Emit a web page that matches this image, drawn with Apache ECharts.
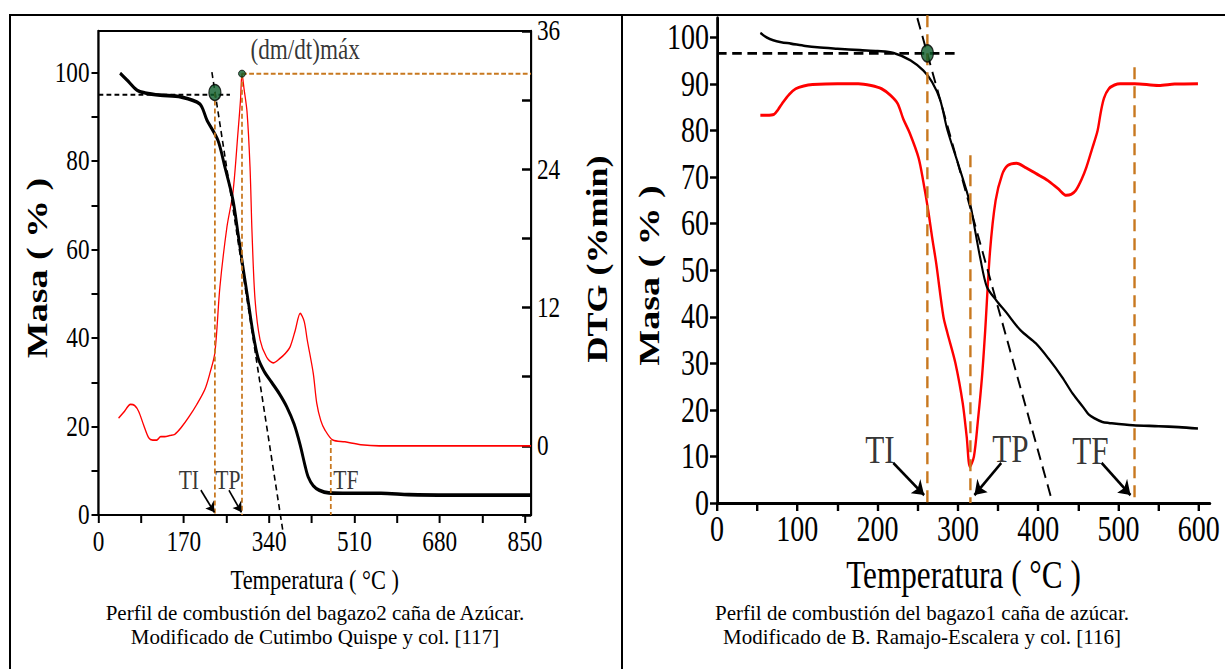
<!DOCTYPE html>
<html>
<head>
<meta charset="utf-8">
<script src="https://cdn.jsdelivr.net/npm/echarts@6/dist/echarts.min.js"></script>
<style>
  html, body { margin: 0; padding: 0; background: #fff; width: 1225px; height: 669px; overflow: hidden; }
  #sheet { position: absolute; left: 0; top: 0; width: 1225px; height: 669px; }
  #plots { position: absolute; left: 0; top: 0; width: 1531.25px; height: 669px;
           transform: scaleX(0.8); transform-origin: 0 0; }
</style>
</head>
<body>
<div id="sheet"></div>
<div id="plots"></div>
<script>
// ---------- Panel A: bagazo2 (Cutimbo Quispe) ----------
const tgTempA = [43, 57, 77, 93, 123, 164, 202, 216, 238, 252, 268, 278, 288, 298, 308, 318, 330, 345, 360, 375, 390, 402, 412, 418, 428, 440, 459, 500, 563, 619, 700, 780, 862];
const tgMassA = [99.9, 98.3, 96.0, 95.4, 94.9, 94.5, 92.9, 89.3, 84.7, 78.6, 71.2, 63.7, 56.0, 48.6, 41.1, 35.5, 32.5, 30.0, 27.5, 24.5, 20.5, 15.8, 11.0, 8.6, 6.6, 5.6, 5.0, 4.9, 4.9, 4.6, 4.5, 4.5, 4.5];
const dtgTempA = [40, 50, 64, 72, 80, 90, 100, 108, 116, 124, 132, 142, 152, 165, 180, 196, 212, 222, 232, 242, 256, 268, 278, 283, 286, 290, 296, 302, 306, 312, 322, 335, 348, 362, 372, 382, 392, 402, 410, 416, 428, 435, 443, 451, 467, 491, 523, 560, 650, 750, 862];
const dtgValA = [2.4, 2.9, 3.6, 3.5, 3.0, 1.8, 0.7, 0.5, 0.5, 0.8, 0.8, 0.9, 1.0, 1.6, 2.5, 3.6, 4.9, 6.3, 8.1, 13.8, 19.0, 22.0, 27.2, 30.0, 32.3, 31.0, 29.0, 24.2, 18.5, 12.7, 9.2, 7.7, 7.2, 7.6, 8.0, 8.6, 10.0, 11.5, 10.8, 9.2, 6.3, 3.7, 2.2, 1.4, 0.5, 0.35, 0.1, 0, 0, 0, 0];
const xTicksA = [0, 85, 170, 255, 340, 425, 510, 595, 680, 765, 850];
const xLabelsA = [0, 170, 340, 510, 680, 850];
const massTicksA = [0, 10, 20, 30, 40, 50, 60, 70, 80, 90, 100];
const massLabelsA = [0, 20, 40, 60, 80, 100];
const dtgTicksA = [-6, 0, 6, 12, 18, 24, 30, 36];
const dtgLabelsA = [0, 12, 24, 36];
// characteristic temperatures (°C) and reference levels
const tiA = 232, tpA = 286, tfA = 463;
const onsetMassA = 95.0, onsetDotA = 95.5, peakDtgA = 32.3;
const tangentA = [[226, 100.1], [368, -4]];
const arrowsA = [[[204, 5.6], [231, 0.6]], [[260, 5.6], [285, 0.6]]];
const tagsA = [{ name: 'TI', value: [180, 8.1] }, { name: 'TP', value: [258, 8.1] }, { name: 'TF', value: [493, 8.1] }];
const peakTagA = { name: '(dm/dt)máx', value: [412, 34.4] };

// ---------- Panel B: bagazo1 (Ramajo-Escalera) ----------
const tgTempB = [54, 62, 70, 80, 92, 110, 125, 150, 178, 200, 220, 241, 257, 268, 278, 287, 301, 315, 322, 328, 336, 348, 360, 378, 397, 413, 430, 443, 456, 463, 470, 480, 488, 518, 550, 575, 599];
const tgMassB = [101, 100, 99.4, 99, 98.7, 98.2, 97.9, 97.6, 97.3, 97.1, 96.7, 95.1, 92.9, 90.4, 86.6, 80.1, 72.5, 64.5, 58, 52.5, 46.5, 43.5, 41, 37.1, 34.3, 31, 27, 23.5, 20.6, 19, 18.2, 17.4, 17.2, 16.7, 16.5, 16.3, 16];
const dtgTempB = [54, 62, 71, 76, 81, 90, 98, 108, 119, 150, 176, 192, 205, 216, 225, 232, 240, 251, 257, 263, 268, 273, 282, 287, 297, 306, 311, 315, 320, 325, 330, 334, 340, 347, 355, 362, 373, 385, 397, 412, 425, 435, 441, 447, 454, 460, 467, 474, 478, 482, 488, 495, 502, 520, 550, 570, 599];
const dtgValB = [83.3, 83.3, 83.5, 84.5, 85.8, 87.8, 89, 89.6, 89.9, 90.1, 90.1, 89.7, 89, 87.6, 85.8, 82.5, 79.5, 74.2, 69, 62.9, 57, 51.5, 40, 36.5, 30, 21.5, 14.2, 7.8, 10, 17.8, 27, 37, 54, 65, 70.5, 72.5, 73, 72, 70.8, 69.3, 67.5, 66.1, 66.3, 67.2, 69.5, 72.1, 76, 80, 84, 87, 89, 89.8, 90.1, 90.1, 89.7, 90, 90.1];
const xTicksB = [0, 50, 100, 150, 200, 250, 300, 350, 400, 450, 500, 550, 600];
const xLabelsB = [0, 100, 200, 300, 400, 500, 600];
const massTicksB = [0, 10, 20, 30, 40, 50, 60, 70, 80, 90, 100];
const tiB = 262, tpB = 315.6, tfB = 520;
const onsetMassB = 96.6;
const tangentB = [[249.5, 104.2], [418, 0]];
const arrowsB = [[[219.5, 8.6], [258, 1.7]], [[354, 8.6], [320.6, 1.7]], [[479, 8.6], [515, 1.7]]];
const tagsB = [{ name: 'TI', value: [203, 11.4] }, { name: 'TP', value: [365.5, 11.6] }, { name: 'TF', value: [465, 11.2] }];

const captionsA = ['Perfil de combustión del bagazo2 caña de Azúcar.', 'Modificado de Cutimbo Quispe y col. [117]'];
const captionsB = ['Perfil de combustión del bagazo1 caña de azúcar.', 'Modificado de B. Ramajo-Escalera y col. [116]'];

// ---------- styling ----------
const FONT = "'Liberation Serif', 'Times New Roman', serif";
const BLACK = '#000000', RED = '#ff0000', ORANGE = '#c8781f', GREEN = '#0b5c29';
const zip = (xs, ys) => xs.map((x, i) => [x, ys[i]]);

// the plot layer is drawn 25% wider and squeezed horizontally by CSS
const SQ = 0.8;
const px = v => v / SQ;

function dashed(name, data, color, width, dash, xi, yi, extra) {
  return Object.assign({
    name, type: 'line', xAxisIndex: xi, yAxisIndex: yi, data,
    showSymbol: false, symbol: 'none', clip: false, silent: true, z: 4,
    lineStyle: { color, width, type: dash }
  }, extra || {});
}
function tags(data, xi, yi, size) {
  return {
    type: 'scatter', xAxisIndex: xi, yAxisIndex: yi, data, symbolSize: 1,
    itemStyle: { color: 'transparent' }, silent: true, z: 6,
    label: { show: true, position: 'inside', formatter: '{b}', color: BLACK, fontFamily: FONT, fontSize: size }
  };
}
function arrows(list, xi, yi, width, head) {
  return {
    type: 'lines', coordinateSystem: 'cartesian2d', xAxisIndex: xi, yAxisIndex: yi,
    symbol: ['none', 'arrow'], symbolSize: head, silent: true, z: 6,
    lineStyle: { color: BLACK, width, opacity: 1, curveness: 0 },
    data: list.map(c => ({ coords: c }))
  };
}

const plots = echarts.init(document.getElementById('plots'), null, { renderer: 'svg' });
plots.setOption({
  animation: false,
  backgroundColor: 'transparent',
  grid: [
    { left: px(98.5), top: 31, width: px(432.5), height: 484, show: true, borderColor: BLACK, borderWidth: 2.2, backgroundColor: 'transparent' },
    { left: px(717), top: 18, width: px(493), height: 485 }
  ],
  xAxis: [
    {
      type: 'value', gridIndex: 0, min: 0, max: 862, interval: 85,
      axisLine: { show: true, onZero: false, lineStyle: { color: BLACK, width: 2 } },
      axisTick: { show: true, inside: false, length: 8, customValues: xTicksA, lineStyle: { color: BLACK, width: 2.5 } },
      axisLabel: { customValues: xLabelsA, color: BLACK, fontFamily: FONT, fontSize: 29, margin: 12 },
      splitLine: { show: false },
      name: 'Temperatura ( °C )', nameLocation: 'middle', nameGap: 50,
      nameTextStyle: { color: BLACK, fontFamily: FONT, fontSize: 28 }
    },
    {
      type: 'value', gridIndex: 1, min: 0, max: 614, interval: 50,
      axisLine: { show: true, onZero: false, lineStyle: { color: BLACK, width: 3 } },
      axisTick: { show: true, inside: false, length: 8, customValues: xTicksB, lineStyle: { color: BLACK, width: 3 } },
      axisLabel: { customValues: xLabelsB, color: BLACK, fontFamily: FONT, fontSize: 35, margin: 9 },
      splitLine: { show: false },
      name: 'Temperatura ( °C )', nameLocation: 'middle', nameGap: 53,
      nameTextStyle: { color: BLACK, fontFamily: FONT, fontSize: 39 }
    }
  ],
  yAxis: [
    {
      type: 'value', gridIndex: 0, position: 'left', min: 0, max: 109.4, interval: 10,
      axisLine: { show: true, onZero: false, lineStyle: { color: BLACK, width: 2.4 } },
      axisTick: { show: true, inside: false, length: px(7), customValues: massTicksA, lineStyle: { color: BLACK, width: 2 } },
      axisLabel: { customValues: massLabelsA, color: BLACK, fontFamily: FONT, fontSize: 29, margin: px(9) },
      splitLine: { show: false },
      name: 'Masa ( % )', nameLocation: 'middle', nameRotate: 90, nameGap: px(46),
      nameTextStyle: { color: BLACK, fontFamily: FONT, fontSize: 38, fontWeight: 'bold', padding: [0, 0, 0, 10] }
    },
    {
      type: 'value', gridIndex: 0, position: 'right', min: -6, max: 36, interval: 6,
      axisLine: { show: true, onZero: false, lineStyle: { color: BLACK, width: 2.4 } },
      axisTick: { show: true, inside: true, length: px(9), customValues: dtgTicksA, lineStyle: { color: BLACK, width: 2.5 } },
      axisLabel: { customValues: dtgLabelsA, color: BLACK, fontFamily: FONT, fontSize: 29, margin: px(6) },
      splitLine: { show: false },
      name: 'DTG (%min)', nameLocation: 'middle', nameRotate: 90, nameGap: px(52),
      nameTextStyle: { color: BLACK, fontFamily: FONT, fontSize: 36, fontWeight: 'bold', padding: [0, 0, 0, 28] }
    },
    {
      type: 'value', gridIndex: 1, position: 'left', min: 0, max: 104.2, interval: 10,
      axisLine: { show: true, onZero: false, lineStyle: { color: BLACK, width: 3.5 } },
      axisTick: { show: true, inside: false, length: px(7), customValues: massTicksB, lineStyle: { color: BLACK, width: 2.5 } },
      axisLabel: { customValues: massTicksB, color: BLACK, fontFamily: FONT, fontSize: 35, margin: px(8) },
      splitLine: { show: false },
      name: 'Masa ( % )', nameLocation: 'middle', nameRotate: 90, nameGap: px(52),
      nameTextStyle: { color: BLACK, fontFamily: FONT, fontSize: 38, fontWeight: 'bold', padding: [0, 30, 0, 0] }
    }
  ],
  series: [
    // ---- panel A ----
    { name: 'TG', type: 'line', xAxisIndex: 0, yAxisIndex: 0, data: zip(tgTempA, tgMassA), smooth: 0.3,
      showSymbol: false, symbol: 'none', z: 3, lineStyle: { color: BLACK, width: 3.6 } },
    { name: 'DTG', type: 'line', xAxisIndex: 0, yAxisIndex: 1, data: zip(dtgTempA, dtgValA), smooth: 0.3,
      showSymbol: false, symbol: 'none', z: 2, lineStyle: { color: RED, width: 1.6 } },
    dashed('onset', [[0, onsetMassA], [262, onsetMassA]], BLACK, 2, [6, 4], 0, 0),
    dashed('tangent', tangentA, BLACK, 2, [6, 4], 0, 0),
    dashed('TI', [[tiA, onsetDotA], [tiA, 0]], ORANGE, 2.2, [5, 3], 0, 0),
    dashed('TP', [[tpA, peakDtgA], [tpA, -6]], ORANGE, 2.2, [5, 3], 0, 1),
    dashed('TF', [[tfA, 0.5], [tfA, -6]], ORANGE, 2.2, [5, 3], 0, 1),
    dashed('peak level', [[tpA, peakDtgA], [862, peakDtgA]], ORANGE, 2, [6, 3], 0, 1),
    { type: 'scatter', xAxisIndex: 0, yAxisIndex: 0, data: [[tiA, onsetDotA]], symbol: 'circle',
      symbolSize: [px(12), 16], z: 7, itemStyle: { color: GREEN, borderColor: BLACK, borderWidth: 1.5 } },
    { type: 'scatter', xAxisIndex: 0, yAxisIndex: 1, data: [[tpA, peakDtgA]], symbol: 'circle',
      symbolSize: [px(7), 7], z: 7, itemStyle: { color: GREEN, borderColor: BLACK, borderWidth: 1 } },
    tags(tagsA, 0, 0, 27),
    tags([peakTagA], 0, 1, 29),
    arrows(arrowsA, 0, 0, 2, 10),
    // ---- panel B ----
    { name: 'TG B', type: 'line', xAxisIndex: 1, yAxisIndex: 2, data: zip(tgTempB, tgMassB), smooth: 0.3,
      showSymbol: false, symbol: 'none', z: 3, lineStyle: { color: BLACK, width: 2.6 } },
    { name: 'DTG B', type: 'line', xAxisIndex: 1, yAxisIndex: 2, data: zip(dtgTempB, dtgValB), smooth: 0.3,
      showSymbol: false, symbol: 'none', z: 2, lineStyle: { color: RED, width: 3 } },
    dashed('onset B', [[0, onsetMassB], [299, onsetMassB]], BLACK, 2.6, [12, 7], 1, 2),
    dashed('tangent B', tangentB, BLACK, 2.4, [12, 7], 1, 2),
    dashed('TI B', [[tiB, 104.8], [tiB, 0]], ORANGE, 3, [12, 7], 1, 2),
    dashed('TP B', [[tpB, 74.7], [tpB, 0]], ORANGE, 3, [12, 7], 1, 2),
    dashed('TF B', [[tfB, 93.6], [tfB, 0]], ORANGE, 3, [12, 7], 1, 2),
    { type: 'scatter', xAxisIndex: 1, yAxisIndex: 2, data: [[tiB, onsetMassB]], symbol: 'circle',
      symbolSize: [px(12), 17], z: 7, itemStyle: { color: GREEN, borderColor: BLACK, borderWidth: 1.5 } },
    tags(tagsB, 1, 2, 39),
    arrows(arrowsB, 1, 2, 3, 14)
  ]
});

// table frame and captions, drawn at natural width
const sheet = echarts.init(document.getElementById('sheet'), null, { renderer: 'svg' });
const frameStyle = { stroke: BLACK, lineWidth: 2 };
function captionText(lines, cx) {
  return lines.map((t, i) => ({
    type: 'text', x: cx, y: 613 + i * 24,
    style: { text: t, fill: BLACK, fontFamily: FONT, fontSize: 21, align: 'center', verticalAlign: 'middle' }
  }));
}
sheet.setOption({
  animation: false,
  graphic: [
    { type: 'line', shape: { x1: 9, y1: 15, x2: 1225, y2: 15 }, style: frameStyle },
    { type: 'line', shape: { x1: 10, y1: 15, x2: 10, y2: 669 }, style: frameStyle },
    { type: 'line', shape: { x1: 622, y1: 15, x2: 622, y2: 669 }, style: frameStyle }
  ].concat(captionText(captionsA, 315), captionText(captionsB, 922))
});
</script>
</body>
</html>
